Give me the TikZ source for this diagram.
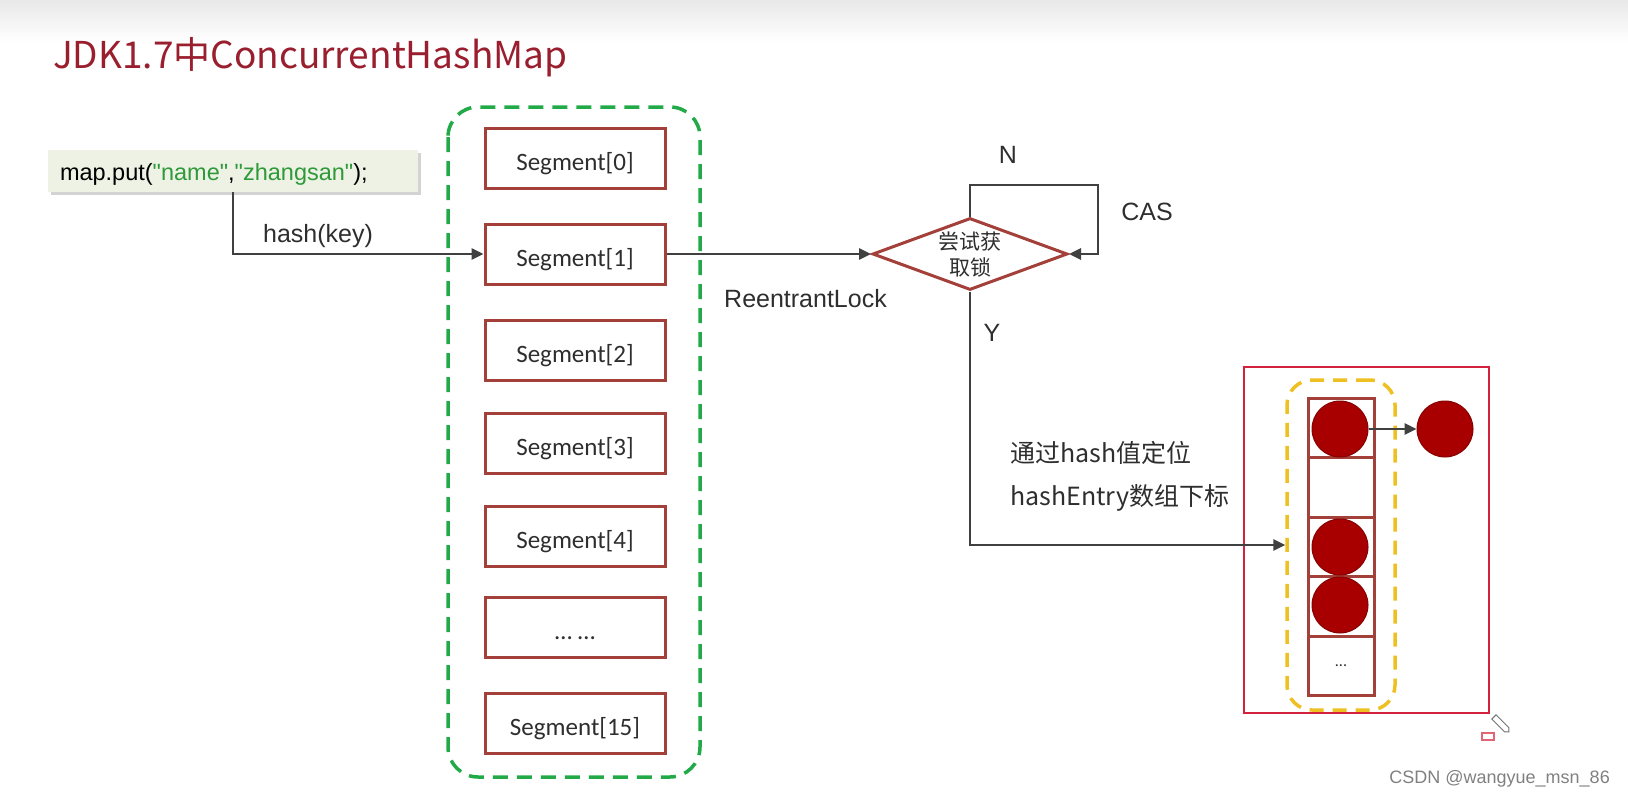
\documentclass[tikz,border=0pt]{standalone}
\usepackage{fontspec}
\setmainfont{Carlito}
\newfontfamily\cjk{Noto Sans CJK SC}
\newfontfamily\arial{Liberation Sans}
\usetikzlibrary{arrows.meta,shapes.geometric,shadows}
\definecolor{segred}{HTML}{A3403A}
\definecolor{titlered}{HTML}{9A1F2E}
\definecolor{arrgray}{HTML}{404040}
\definecolor{txt}{HTML}{2E2E2E}
\definecolor{dashgreen}{HTML}{22AA48}
\definecolor{gold}{HTML}{EEC022}
\definecolor{boxred}{HTML}{D4213D}
\definecolor{ballred}{HTML}{A80000}
\definecolor{codebg}{HTML}{EDF2E4}
\definecolor{codegreen}{HTML}{2F9A3A}
\begin{document}
\begin{tikzpicture}[x=1pt,y=-1pt,
  seg/.style={draw=segred, line width=3pt, fill=white, minimum width=180pt, minimum height=60pt, inner sep=0pt, text height=24pt, text depth=0pt, text=txt, font=\fontsize{25pt}{30pt}\selectfont},
  arr/.style={draw=arrgray, line width=2.8pt, -{Triangle[length=12pt,width=11pt]}},
  lbl/.style={text=txt, font=\arial\fontsize{25pt}{30pt}\selectfont, inner sep=0pt},
  cjklbl/.style={text=txt, font=\cjk\fontsize{25pt}{30pt}\selectfont, inner sep=0pt, anchor=west},
  cell/.style={draw=segred, line width=3pt, minimum width=66pt, minimum height=59.5pt, inner sep=0pt},
  ball/.style={circle, fill=ballred, draw=ballred!80!black, line width=1pt, minimum size=56pt, inner sep=0pt}
]
\useasboundingbox (0,0) rectangle (1628,800);
\shade[top color=black!9, bottom color=white] (0,0) rectangle (1628,42);

% title
\node[anchor=base west, inner sep=0pt, text=titlered, font=\cjk\fontsize{37pt}{44pt}\selectfont] (title) at (53,69) {JDK1.7中ConcurrentHashMap};

% code box
\node[fill=codebg, drop shadow={shadow xshift=3pt, shadow yshift=-3pt, opacity=0.35}, minimum height=42pt, text width=346pt, align=left, inner xsep=12pt, inner ysep=0pt, text height=19pt, text depth=0pt, font=\arial\fontsize{23.5pt}{28pt}\selectfont, text=black] (code) at (233,171) {map.put(\textcolor{codegreen}{"name"},\textcolor{codegreen}{"zhangsan"});};

% green dashed container
\draw[dashgreen, line width=3.5pt, dash pattern=on 15pt off 9pt, rounded corners=30pt] (448,107) rectangle (700,777);

% segments
\node[seg] (s0) at (575,158) {Segment[0]};
\node[seg] (s1) at (575,254) {Segment[1]};
\node[seg] (s2) at (575,350) {Segment[2]};
\node[seg] (s3) at (575,443) {Segment[3]};
\node[seg] (s4) at (575,536) {Segment[4]};
\node[seg] (sd) at (575,627) {… …};
\node[seg] (s15) at (575,723) {Segment[15]};

% hash arrow
\draw[arr] (code.south) |- (s1.west);
\node[lbl] (hk) at (318,236) {hash(key)};

% diamond
\node[diamond, draw=segred, line width=3pt, fill=white, minimum width=195pt, minimum height=72pt, inner sep=0pt] (dia) at (970,254) {};
\node[text=txt, font=\cjk\fontsize{21pt}{26pt}\selectfont, align=center, inner sep=0pt] (diat) at (970,255) {尝试获\\取锁};

\draw[arr] (s1.east) -- (dia.west);
\node[lbl, anchor=west] (rl) at (724,299) {ReentrantLock};

% N loop
\coordinate (nl) at (1098,185);
\draw[arr] (dia.north) |- (nl) |- (dia.east);
\node[lbl] (n) at (1008,155) {N};
\node[lbl] (cas) at (1147,212) {CAS};

% red box and array
\draw[boxred, line width=2.2pt] (1244,367) rectangle (1489,713);
\node[draw=gold, line width=3.5pt, dash pattern=on 14pt off 9pt, rounded corners=25pt, minimum width=108pt, minimum height=330pt, inner sep=0pt] (yb) at (1341,545) {};

\node[cell] (c1) at (1341,427.75) {};
\node[cell] (c2) at (1341,487.25) {};
\node[cell] (c3) at (1341,546.75) {};
\node[cell] (c4) at (1341,606.25) {};
\node[cell, text=txt, font=\fontsize{16pt}{18pt}\selectfont] (c5) at (1341,665.75) {...};

\node[ball] (b1) at (1340,429) {};
\node[ball] (b3) at (1340,547) {};
\node[ball] (b4) at (1340,605) {};
\node[ball] (b6) at (1445,429) {};
\draw[arr] (b1.east) -- (b6.west);

% Y branch
\draw[arr] (dia.south) |- (yb.west);
\node[lbl] (y) at (992,333) {Y};
\node[cjklbl] (t1) at (1010,453) {通过hash值定位};
\node[cjklbl] (t2) at (1010,498) {hashEntry数组下标};

% small artifact rectangle and pencil cursor
\draw[boxred!70, line width=1.2pt] (1482,733) rectangle (1494,740);
\draw[black!55, line width=1pt, fill=white, rotate around={-45:(1501,724)}] (1491,721) -- (1509,721) -- (1512,724) -- (1509,727) -- (1491,727) -- cycle;

% watermark
\node[anchor=east, inner sep=0pt, text=black!50, font=\arial\fontsize{18pt}{22pt}\selectfont] (wm) at (1610,779) {CSDN @wangyue\_msn\_86};
\end{tikzpicture}
\end{document}
